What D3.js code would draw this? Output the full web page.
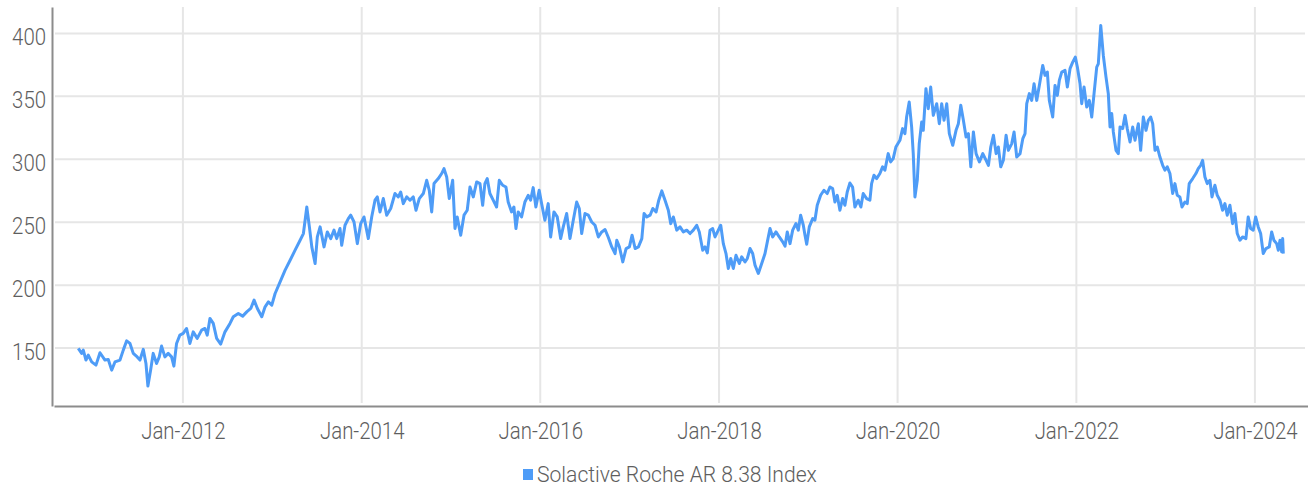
<!DOCTYPE html>
<html>
<head>
<meta charset="utf-8">
<script src="https://cdn.jsdelivr.net/npm/d3@7"></script>
<style>
  body { margin: 0; background: #fff; }
  text { font-family: Roboto, sans-serif; font-weight: 300; fill: #5e5e5e; }
</style>
</head>
<body>
<svg id="chart" width="1308" height="488"></svg>
<script>
// series label
const seriesName = 'Solactive Roche AR 8.38 Index';

// tick values
const yTickValues = [150, 200, 250, 300, 350, 400];
const xTickYears = [2012, 2014, 2016, 2018, 2020, 2022, 2024];

// visible window (decimal years / index points)
const xWindow = [2010.556, 2024.593];
const yWindow = [104, 421];

const dateYears = [
  2010.828, 2010.866, 2010.884, 2010.914, 2010.940, 2010.978, 2011.026, 2011.071, 2011.127, 2011.164,
  2011.202, 2011.239, 2011.295, 2011.332, 2011.370, 2011.407, 2011.444, 2011.488, 2011.519, 2011.556,
  2011.586, 2011.608, 2011.638, 2011.667, 2011.705, 2011.735, 2011.761, 2011.798, 2011.835, 2011.873,
  2011.899, 2011.929, 2011.966, 2012.003, 2012.041, 2012.078, 2012.115, 2012.160, 2012.209, 2012.246,
  2012.272, 2012.302, 2012.339, 2012.377, 2012.422, 2012.470, 2012.526, 2012.563, 2012.619, 2012.668,
  2012.713, 2012.758, 2012.795, 2012.832, 2012.881, 2012.918, 2012.955, 2012.993, 2013.030,
  2013.086, 2013.142, 2013.198, 2013.254, 2013.310, 2013.347, 2013.385, 2013.414, 2013.441, 2013.478,
  2013.503, 2013.534, 2013.578, 2013.615, 2013.653, 2013.690, 2013.720, 2013.757, 2013.776, 2013.813,
  2013.850, 2013.877, 2013.914, 2013.951, 2013.989, 2014.026, 2014.074, 2014.112, 2014.149, 2014.175,
  2014.205, 2014.242, 2014.280, 2014.325, 2014.373, 2014.410, 2014.437, 2014.466, 2014.504, 2014.541,
  2014.578, 2014.608, 2014.645, 2014.690, 2014.728, 2014.757, 2014.784, 2014.810, 2014.858, 2014.896,
  2014.922, 2014.952, 2014.981, 2015.019, 2015.045, 2015.070, 2015.109, 2015.146, 2015.182, 2015.213,
  2015.250, 2015.288,
  2015.325, 2015.355, 2015.380, 2015.406, 2015.436, 2015.473, 2015.511, 2015.541, 2015.579, 2015.616,
  2015.641, 2015.679, 2015.705, 2015.728, 2015.753, 2015.791, 2015.828, 2015.865, 2015.892, 2015.921,
  2015.951, 2015.988, 2016.015, 2016.052, 2016.089, 2016.116, 2016.153, 2016.190, 2016.228, 2016.257,
  2016.295, 2016.332, 2016.369, 2016.407, 2016.436, 2016.463, 2016.500, 2016.537, 2016.575, 2016.612,
  2016.649, 2016.687, 2016.724, 2016.761, 2016.799, 2016.836, 2016.855, 2016.884, 2016.922, 2016.959,
  2016.996, 2017.026, 2017.060, 2017.097, 2017.135, 2017.160, 2017.191, 2017.228, 2017.258, 2017.295,
  2017.325, 2017.359, 2017.395, 2017.432, 2017.459, 2017.488, 2017.526, 2017.563, 2017.600, 2017.638,
  2017.675, 2017.712, 2017.750, 2017.779, 2017.817, 2017.843, 2017.869, 2017.899, 2017.929, 2017.955,
  2017.992, 2018.019, 2018.048, 2018.078, 2018.104, 2018.131, 2018.160, 2018.190, 2018.227, 2018.254,
  2018.291, 2018.317, 2018.347, 2018.377, 2018.403, 2018.440, 2018.478, 2018.515, 2018.541, 2018.571,
  2018.601, 2018.638, 2018.675, 2018.713, 2018.739, 2018.764, 2018.795, 2018.825, 2018.862, 2018.888,
  2018.914, 2018.944, 2018.963, 2018.982, 2019.011, 2019.049, 2019.074, 2019.100, 2019.138, 2019.175,
  2019.212, 2019.242, 2019.273, 2019.298, 2019.324, 2019.354, 2019.384, 2019.410, 2019.436, 2019.466,
  2019.496, 2019.522, 2019.559, 2019.589, 2019.615, 2019.653, 2019.690, 2019.709, 2019.735, 2019.765,
  2019.802, 2019.832, 2019.858, 2019.895, 2019.922, 2019.951, 2019.981,
  2020.026, 2020.056, 2020.082, 2020.101, 2020.130, 2020.157, 2020.175, 2020.194, 2020.220, 2020.242,
  2020.269, 2020.287, 2020.317, 2020.343, 2020.370, 2020.399, 2020.437, 2020.466, 2020.493, 2020.519,
  2020.549, 2020.578, 2020.616, 2020.653, 2020.679, 2020.706, 2020.735, 2020.765, 2020.791, 2020.818,
  2020.847, 2020.877, 2020.914, 2020.952, 2020.989, 2021.015, 2021.041, 2021.071, 2021.101, 2021.126,
  2021.153, 2021.182, 2021.213, 2021.238, 2021.276, 2021.302, 2021.332, 2021.369, 2021.400, 2021.425,
  2021.444, 2021.473, 2021.500, 2021.526, 2021.556, 2021.585, 2021.623, 2021.649, 2021.675, 2021.697,
  2021.735, 2021.761, 2021.787, 2021.809, 2021.836, 2021.873, 2021.899, 2021.929, 2021.959, 2021.988,
  2022.011, 2022.041, 2022.060, 2022.086, 2022.116, 2022.145, 2022.172, 2022.198, 2022.228, 2022.246,
  2022.273, 2022.302, 2022.332,
  2022.358, 2022.377, 2022.396, 2022.414, 2022.444, 2022.470, 2022.489, 2022.519, 2022.545, 2022.570,
  2022.601, 2022.631, 2022.657, 2022.694, 2022.720, 2022.750, 2022.780, 2022.806, 2022.832, 2022.855,
  2022.881, 2022.906, 2022.936, 2022.967, 2022.992, 2023.018, 2023.048, 2023.079, 2023.104, 2023.130,
  2023.160, 2023.183, 2023.216, 2023.242, 2023.264, 2023.303, 2023.339, 2023.365, 2023.392, 2023.414,
  2023.440, 2023.466, 2023.496, 2023.519, 2023.552, 2023.578, 2023.608, 2023.638, 2023.664, 2023.690,
  2023.720, 2023.750, 2023.776, 2023.802, 2023.832, 2023.862, 2023.899, 2023.925, 2023.952, 2023.981,
  2024.008, 2024.037, 2024.064, 2024.093, 2024.123, 2024.160, 2024.187, 2024.212, 2024.243, 2024.261,
  2024.280, 2024.299, 2024.310, 2024.317
];

// index level at each date
const indexValues = [
  149.8, 145.8, 148.4, 140.5, 144.4, 139.1, 136.5, 146.3, 140.5, 141.0,
  132.5, 139.0, 140.5, 148.4, 155.8, 153.7, 145.8, 143.0, 140.5, 149.0,
  137.8, 119.8, 132.5, 145.8, 137.8, 143.0, 151.6, 143.0, 145.8, 143.0,
  135.7, 153.7, 160.3, 161.7, 165.6, 153.7, 162.9, 157.7, 164.3, 165.6,
  160.3, 173.6, 169.6, 157.7, 153.2, 162.9, 169.6, 174.9, 177.5, 175.4,
  178.8, 181.5, 188.1, 181.5, 174.9, 182.8, 186.7, 184.1, 193.4,
  202.6, 211.9, 219.8, 227.8, 235.7, 241.0, 262.1, 246.3, 230.4, 217.2,
  238.3, 246.3, 230.4, 242.3, 237.0, 243.7, 237.0, 245.0, 231.7, 247.6,
  252.9, 255.6, 250.2, 233.0, 248.9, 254.2, 237.0, 254.2, 267.5, 270.1,
  258.2, 268.8, 255.6, 260.9, 272.8, 270.1, 274.0, 264.8, 270.1, 267.5,
  270.1, 259.5, 268.8, 272.8, 283.3, 275.4, 258.2, 280.7, 284.7, 288.7,
  292.6, 286.0, 268.8, 283.3, 245.0, 254.2, 239.7, 255.6, 259.5, 278.0,
  270.1, 282.0,
  280.7, 263.5, 280.7, 284.7, 272.8, 267.5, 262.1, 283.3, 279.4, 278.0,
  266.1, 258.2, 262.1, 245.0, 258.2, 254.2, 266.1, 271.4, 267.5, 277.5,
  262.1, 275.4, 264.8, 251.6, 264.8, 238.3, 258.2, 254.2, 237.0, 246.3,
  256.9, 237.0, 251.6, 266.1, 260.9, 241.0, 256.9, 255.6, 250.2, 247.6,
  238.3, 242.3, 244.2, 237.9, 230.4, 225.1, 235.7, 230.4, 218.5, 229.1,
  230.4, 239.7, 229.1, 230.4, 237.0, 256.9, 254.2, 255.6, 260.9, 258.2,
  267.5, 274.9, 267.5, 259.5, 248.9, 254.2, 243.7, 246.3, 242.3, 243.7,
  241.0, 243.7, 247.6, 242.3, 227.8, 230.4, 225.6, 243.7, 245.0, 238.3,
  243.7, 247.6, 233.0, 225.1, 213.3, 221.2, 213.3, 223.8, 217.2, 222.5,
  218.5, 221.2, 229.1, 225.1, 215.9, 209.3, 217.2, 225.1, 234.4, 245.0,
  238.3, 242.3, 238.3, 234.4, 231.0, 242.3, 233.0, 243.7, 249.0, 243.7,
  255.6, 247.6, 239.7, 232.5, 246.3, 252.9, 251.6, 263.5, 271.4, 275.4,
  272.8, 278.0, 276.7, 266.1, 271.4, 259.5, 268.8, 263.5, 274.0, 281.2,
  278.0, 262.1, 267.5, 262.1, 272.8, 268.8, 267.5, 280.7, 287.3, 284.7,
  288.7, 294.0, 291.3, 304.5, 297.9, 300.6, 309.8,
  315.1, 324.4, 320.4, 333.6, 345.5, 325.7, 304.5, 270.1, 283.3, 312.5,
  329.6, 323.0, 356.1, 340.2, 357.4, 334.9, 344.2, 328.3, 344.2, 331.0,
  344.2, 320.4, 311.1, 323.0, 328.3, 342.9, 331.0, 317.7, 320.4, 294.0,
  321.7, 304.5, 297.9, 304.5, 299.2, 295.2, 309.8, 319.1, 304.5, 309.8,
  294.0, 299.2, 319.1, 307.1, 312.5, 321.7, 301.8, 304.5, 316.4, 320.4,
  344.2, 352.2, 346.8, 360.0, 346.8, 358.7, 374.6, 366.7, 369.3, 346.8,
  333.6, 358.7, 350.8, 362.7, 369.3, 370.6, 357.4, 372.0, 377.2, 381.2,
  373.3, 360.0, 344.2, 357.4, 341.5, 346.8, 333.6, 352.2, 373.3, 375.9,
  406.3, 382.5, 365.3,
  352.0, 325.7, 336.3, 321.7, 307.1, 304.5, 325.7, 324.4, 334.9, 324.4,
  313.8, 325.7, 315.1, 328.3, 307.1, 333.6, 323.0, 331.0, 333.6, 328.3,
  307.1, 309.8, 301.8, 295.2, 291.3, 294.0, 288.7, 272.8, 280.7, 271.4,
  270.1, 262.1, 266.1, 264.8, 280.7, 284.7, 288.7, 292.6, 295.2, 299.2,
  286.0, 280.7, 283.3, 270.1, 279.4, 271.4, 267.5, 259.5, 264.8, 255.6,
  263.5, 248.9, 256.9, 241.0, 235.7, 238.3, 237.0, 254.2, 245.0, 243.7,
  254.2, 246.3, 241.0, 225.1, 229.1, 230.4, 242.3, 235.7, 233.0, 227.8,
  235.7, 226.5, 237.0, 225.1
];

// decimal year -> Date (UTC)
function yearToDate(y){
    const yr = Math.floor(y);
    const start = Date.UTC(yr, 0, 1);
    const end = Date.UTC(yr + 1, 0, 1);
    return new Date(start + (y - yr) * (end - start));
}

const data = dateYears.map((y, i) => ({ date: yearToDate(y), value: indexValues[i] }));

const svg = d3.select('#chart');
const textScale = 0.85; // condense axis glyphs a bit
const lineColor = '#4e9cf7';
const gridColor = '#e6e6e6';
const axisColor = '#8c8c8c';

const xScale = d3.scaleUtc()
    .domain(xWindow.map(yearToDate))
    .range([54, 1308]);
const yScale = d3.scaleLinear()
    .domain(yWindow)
    .range([406, 7]);

const xTicks = xTickYears.map(y => new Date(Date.UTC(y, 0, 1)));

// gridlines
const grid = svg.append('g').attr('class', 'grid');
grid.selectAll('line.h')
    .data(yTickValues)
    .enter()
    .append('line')
    .attr('class', 'h')
    .attr('x1', 55).attr('x2', 1305)
    .attr('y1', d => yScale(d)).attr('y2', d => yScale(d))
    .attr('stroke', gridColor)
    .attr('stroke-width', 2);
grid.selectAll('line.v')
    .data(xTicks)
    .enter()
    .append('line')
    .attr('class', 'v')
    .attr('x1', d => xScale(d)).attr('x2', d => xScale(d))
    .attr('y1', 7).attr('y2', 403)
    .attr('stroke', gridColor)
    .attr('stroke-width', 2);

// the series
const lineGen = d3.line()
    .x(d => xScale(d.date))
    .y(d => yScale(d.value));

svg.append('path')
    .datum(data)
    .attr('d', lineGen)
    .attr('fill', 'none')
    .attr('stroke', lineColor)
    .attr('stroke-width', 3)
    .attr('stroke-linejoin', 'round');

// axes
const xAxis = svg.append('g')
    .attr('transform', 'translate(0,406)')
    .call(d3.axisBottom(xScale)
        .tickValues(xTicks)
        .tickSize(0)
        .tickPadding(16)
        .tickFormat(d3.utcFormat('%b-%Y')));

const yAxis = svg.append('g')
    .attr('transform', 'translate(52,0)')
    .call(d3.axisLeft(yScale)
        .tickValues(yTickValues)
        .tickSize(0)
        .tickPadding(7));

[xAxis, yAxis].forEach(ax => {
    ax.select('.domain').attr('stroke', axisColor).attr('stroke-width', 2);
    ax.selectAll('text')
        .attr('fill', '#5e5e5e')
        .style('font-size', '24px')
        .attr('transform', 'scale(' + textScale + ',1)');
    ax.attr('font-family', null).attr('font-size', null);
});
yAxis.selectAll('text').attr('dy', '0.46em');

// legend
const legend = svg.append('g').attr('class', 'legend');
legend.append('rect')
    .attr('x', 523).attr('y', 469)
    .attr('width', 10).attr('height', 11)
    .attr('fill', lineColor);
legend.append('text')
    .attr('transform', 'translate(537,482) scale(0.96,1)')
    .style('font-size', '22px')
    .text(seriesName);
</script>
</body>
</html>
